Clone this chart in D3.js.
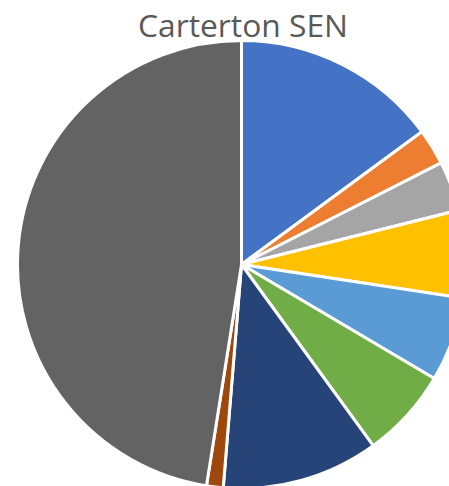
<!DOCTYPE html>
<html>
<head>
<meta charset="utf-8">
<script src="https://cdn.jsdelivr.net/npm/d3@7"></script>
<style>
  html, body { margin: 0; padding: 0; background: #fff; overflow: hidden; }
  svg { display: block; }
</style>
</head>
<body>
<svg id="chart" width="449" height="486"></svg>
<script>
const title = "Carterton SEN";
const categories = ["A", "B", "C", "D", "E", "F", "G", "H", "I"];
const values = [14.9, 2.6, 3.6, 6.3, 6.1, 6.5, 11.3, 1.2, 47.5];
const colors = ["#4472C4", "#ED7D31", "#A5A5A5", "#FFC000", "#5B9BD5", "#70AD47", "#264478", "#9E480E", "#636363"];

const svg = d3.select("#chart");
const cx = 241.5, cy = 264.5, r = 224;

const data = categories.map((c, i) => ({ cat: c, value: values[i], color: colors[i] }));
const pie = d3.pie().value(d => d.value).sort(null);
const arc = d3.arc().innerRadius(0).outerRadius(r);

const g = svg.append("g").attr("transform", `translate(${cx},${cy})`);
g.selectAll("path")
  .data(pie(data))
  .join("path")
  .attr("d", arc)
  .attr("fill", d => d.data.color)
  .attr("stroke", "#fff")
  .attr("stroke-width", 3)
  .attr("stroke-linejoin", "round");

const t = svg.append("text")
  .attr("x", 243)
  .attr("y", 37)
  .attr("text-anchor", "middle")
  .attr("fill", "#595959")
  .style("font-family", "'Open Sans', 'Noto Sans', sans-serif")
  .style("font-size", "32px")
  .text(title);
const w = t.node().getComputedTextLength();
t.style("font-size", (32 * 210 / w) + "px");
</script>
</body>
</html>
